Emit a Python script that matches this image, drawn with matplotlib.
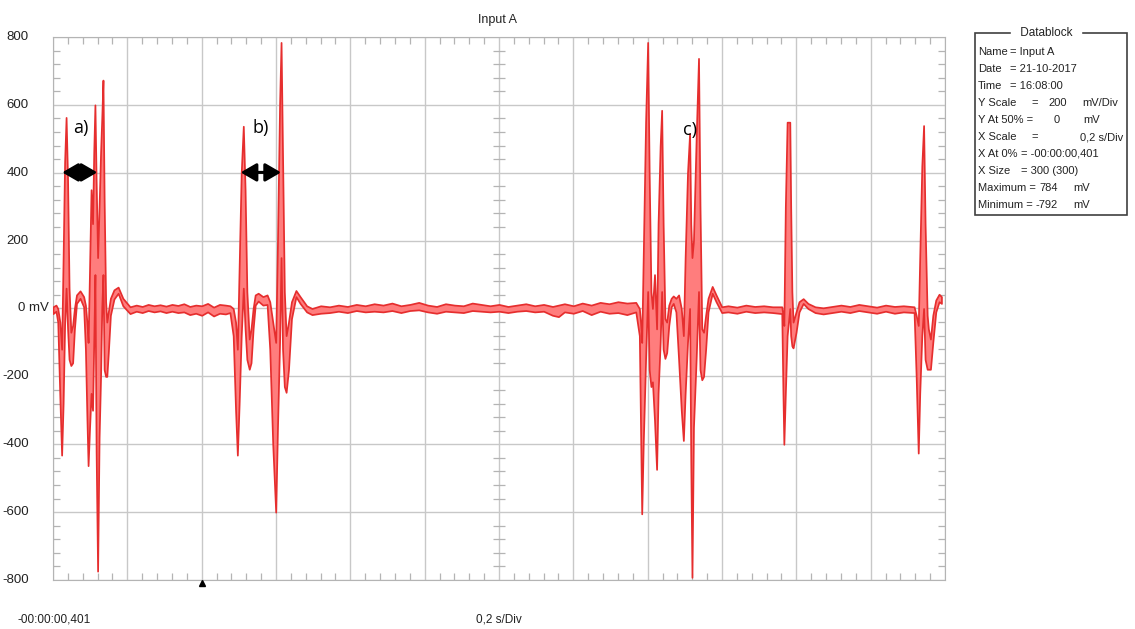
import matplotlib
matplotlib.use("Agg")
import matplotlib.pyplot as plt
import matplotlib.transforms as mtransforms
from matplotlib.patches import Rectangle
import numpy as np

# x = sample index (300 samples over 12 divisions), envelope max/min in mV
# burst a)
a_idx = [0.0, 1.0, 1.6, 2.3, 2.9, 3.4, 3.9, 4.4, 4.9, 5.4, 6.0, 6.6, 7.2, 7.9, 9.1, 10.3,
         10.9, 11.4, 11.8, 12.3, 12.8, 13.3, 13.7, 14.1, 14.5, 15.0, 15.5, 16.0, 16.4,
         16.8, 17.2, 17.7, 18.1, 18.6, 19.3, 20.5, 21.9, 23.5, 25.9]
a_max = [5, 10, 0, -40, -120, 150, 430, 563, 380, 60, -70, -50, 0, 40, 52, 35,
         10, -40, -100, 120, 350, 250, 460, 600, 380, 150, 300, 460, 560,
         673, 320, 20, -40, -10, 30, 55, 63, 30, 5]
a_min = [-15, -8, -40, -260, -432, -280, -50, 60, -60, -150, -168, -160, -60, 15, 30, 5,
         -120, -320, -463, -350, -250, -300, -100, 100, -420, -774, -380, -200, 0,
         100, -180, -200, -200, -130, -20, 28, 45, 8, -15]

# quiet stretch
q1_idx = [28, 30, 32, 34, 36, 38, 40, 42, 44, 46, 48, 50, 52, 54, 56, 58, 59.5]
q1_max = [10, 6, 12, 8, 11, 7, 12, 9, 14, 6, 10, 8, 15, 4, 12, 10, 8]
q1_min = [-8, -12, -6, -10, -7, -12, -8, -12, -10, -18, -14, -20, -10, -22, -14, -16, -12]

# burst b)
b_idx = [60.6, 61.4, 62.0, 62.6, 63.3, 64.0, 64.6, 65.2, 66.0, 66.6, 67.3, 68.0, 69.0,
         70.6, 72.0, 72.9, 73.9, 74.9, 75.5, 76.2, 76.7, 77.2, 77.8, 78.4, 79.2, 80.2,
         81.7, 83.1, 85.3, 87.1]
b_max = [0, -40, -120, 120, 400, 537, 350, 50, -90, -60, 0, 40, 45,
         35, 40, 20, -40, -100, 200, 600, 784, 450, 50, -80, -40, 20,
         53, 35, 8, 0]
b_min = [-80, -300, -432, -280, -80, 60, -60, -150, -179, -160, -60, 10, 22,
         10, 12, -120, -400, -600, -350, -100, 150, -120, -230, -247, -180, -30,
         35, 15, -10, -18]

q2_idx = [90, 93, 96, 99, 102, 105, 108, 111, 114, 117, 120, 123, 126, 129, 132, 135,
          138, 141, 144, 147, 150, 153, 156, 159, 162, 165, 168, 170, 172, 175, 178,
          181, 184, 187, 190, 193, 196]
q2_max = [8, 5, 10, 6, 12, 8, 14, 10, 16, 8, 12, 18, 10, 6, 14, 10,
          8, 16, 12, 8, 12, 6, 10, 14, 8, 12, 6, 10, 14, 8, 16,
          10, 18, 14, 20, 16, 18]
q2_min = [-14, -12, -8, -12, -6, -10, -8, -10, -6, -12, -6, -4, -10, -14, -8, -10,
          -12, -6, -8, -10, -8, -12, -8, -6, -10, -8, -20, -24, -10, -14, -6,
          -18, -8, -14, -12, -18, -10]

# burst c)
c_idx = [197.2, 197.6, 198.0, 198.5, 199.3, 200.0, 200.5, 201.1, 201.6, 202.3, 203.0,
         203.5, 204.2, 204.7, 205.2, 205.8, 206.4, 207.1, 207.9, 208.6, 209.5, 210.4,
         211.3, 212.0, 212.6, 213.4, 214.1, 214.5, 214.9, 215.4, 216.3, 217.1, 217.6,
         218.2, 218.8, 219.5, 220.3, 221.7, 223.0, 224.9]
c_max = [0, -40, -100, 150, 550, 784, 400, 50, 0, 100, -60,
         250, 480, 584, 250, -30, -40, 10, 30, 37, 30, 40,
         0, -80, 150, 400, 516, 250, 150, 200, 500, 737, 300,
         -60, -70, -20, 30, 65, 40, 5]
c_min = [-80, -350, -605, -400, -150, 50, -180, -230, -216, -330, -474,
         -250, -100, 50, -120, -147, -130, -50, 5, 15, -10, -150,
         -300, -389, -250, -100, 0, -450, -792, -350, -150, 50, -180,
         -210, -200, -120, -10, 45, 20, -12]

q3_idx = [227, 230, 233, 236, 239, 242, 245.1]
q3_max = [8, 4, 10, 6, 8, 5, 5]
q3_min = [-10, -14, -8, -12, -10, -12, -15]

# single spike near 1.4 s
d_idx = [245.5, 245.8, 246.3, 246.9, 247.8, 248.1, 248.5, 248.9, 249.9, 250.9, 252.3, 253.9, 256.3]
d_max = [-20, -50, 300, 549, 549, 300, 50, -40, -10, 20, 29, 15, 5]
d_min = [-250, -400, -250, -80, 0, -80, -110, -116, -70, -10, 15, 0, -12]

q4_idx = [259, 262, 265, 268, 271, 274, 277, 280, 283, 286, 289.6]
q4_max = [2, 6, 10, 6, 12, 8, 4, 10, 6, 8, 5]
q4_min = [-16, -12, -8, -12, -6, -10, -14, -8, -14, -10, -12]

# last spike
e_idx = [290.3, 291.0, 291.5, 292.2, 292.8, 293.3, 294.0, 294.4, 295.1, 295.9, 296.9, 298.0, 298.8]
e_max = [-20, -50, 150, 420, 539, 250, -20, -60, -90, -20, 25, 42, 35]
e_min = [-200, -426, -250, -80, 0, -150, -179, -179, -179, -100, -10, 20, 15]

sample_idx = a_idx + q1_idx + b_idx + q2_idx + c_idx + q3_idx + d_idx + q4_idx + e_idx
env_max = a_max + q1_max + b_max + q2_max + c_max + q3_max + d_max + q4_max + e_max
env_min = a_min + q1_min + b_min + q2_min + c_min + q3_min + d_min + q4_min + e_min
assert len(sample_idx) == len(env_max) == len(env_min)

y_major = [-800, -600, -400, -200, 0, 200, 400, 600, 800]
y_labels = ["-800", "-600", "-400", "-200", "0 mV", "200", "400", "600", "800"]

plt.rcParams["font.family"] = ["Liberation Sans", "DejaVu Sans"]
txt_c = "#222222"

fig = plt.figure(figsize=(11.35, 6.29), dpi=100)
ax = fig.add_axes([53 / 1135, 1 - 580 / 629, 892 / 1135, 543 / 629])

grid_c = "#c8c8c8"
ax.set_xlim(0, 300)
ax.set_ylim(-800, 800)
ax.set_xticks(np.arange(0, 301, 25))
ax.set_xticks(np.arange(0, 301, 5), minor=True)
ax.set_yticks(y_major)
ax.set_yticks(np.arange(-800, 801, 40), minor=True)
ax.grid(True, which="major", color=grid_c, linewidth=1.0)
ax.tick_params(which="major", length=0, labelbottom=False, labelleft=False)
ax.tick_params(which="minor", direction="in", length=5, width=0.9, color="#b4b4b4",
               top=True, right=True, bottom=True, left=True)
for sp in ax.spines.values():
    sp.set_color("#b4b4b4")
ax.set_axisbelow(True)

# small ticks on the centre vertical line
cy = np.arange(-760, 800, 40)
cy = cy[cy % 200 != 0]
ax.plot(np.full(len(cy), 150), cy, linestyle="none", marker="_", markersize=9,
        markeredgewidth=0.9, color="#b4b4b4", zorder=1)

# signal envelope
ax.fill_between(sample_idx, env_min, env_max, facecolor="#ff7d7d",
                edgecolor="#e62e2e", linewidth=1.25, zorder=3)

# y labels
ytr = mtransforms.blended_transform_factory(ax.transAxes, ax.transData)
for v, lab in zip(y_major, y_labels):
    xoff = -0.005 if lab == "0 mV" else -0.027
    ax.text(xoff, v, lab, transform=ytr, ha="right", va="center", fontsize=9.5, color=txt_c)

# trigger marker
ax.plot([50], [-0.006], marker="^", markersize=5, color="black", clip_on=False,
        transform=mtransforms.blended_transform_factory(ax.transData, ax.transAxes), zorder=5)

fig.text(498 / 1135, 1 - 20 / 629, "Input A", ha="center", va="center", fontsize=9, color=txt_c)
fig.text(17 / 1135, 1 - 620 / 629, "-00:00:00,401", ha="left", va="center", fontsize=8.5, color=txt_c)
fig.text(499 / 1135, 1 - 620 / 629, "0,2 s/Div", ha="center", va="center", fontsize=8.5, color=txt_c)

# annotations a) b) c)
for lab, xs, yv in [("a)", 9.4, 532), ("b)", 70.0, 532), ("c)", 214.2, 525)]:
    ax.text(xs, yv, lab, ha="center", va="center", fontsize=13,
            family=["Open Sans", "DejaVu Sans"], color="black", zorder=6)
for x0, x1 in [(3.1, 14.9), (63.1, 76.7)]:
    ax.annotate("", xy=(x1, 401), xytext=(x0, 401),
                arrowprops=dict(arrowstyle="<|-|>,head_length=0.95,head_width=0.55",
                                mutation_scale=10, color="black", lw=2.2,
                                shrinkA=0, shrinkB=0), zorder=6)

# datablock
bx0, bx1, by0, by1 = 975, 1127, 33, 215
fig.patches.append(Rectangle((bx0 / 1135, 1 - by1 / 629), (bx1 - bx0) / 1135, (by1 - by0) / 629,
                             transform=fig.transFigure, fill=False, edgecolor="#404040", linewidth=1.2))
fig.text(1046 / 1135, 1 - by0 / 629, " Datablock ", ha="center", va="center", fontsize=8.5,
         color=txt_c, backgroundcolor="white")

db_fs = 8
rows = [
    # (label, [(text, x, ha), ...])
    ("Name", [("= Input A", 1010, "left")]),
    ("Date", [("= 21-10-2017", 1010, "left")]),
    ("Time", [("= 16:08:00", 1010, "left")]),
    ("Y Scale", [("=", 1031, "left"), ("200", 1067, "right"), ("mV/Div", 1082, "left")]),
    ("Y At 50% =", [("0", 1060, "right"), ("mV", 1083, "left")]),
    ("X Scale", [("=", 1031, "left"), ("0,2 s/Div", 1123, "right")]),
    ("X At 0%", [("= -00:00:00,401", 1021, "left")]),
    ("X Size", [("= 300 (300)", 1021, "left")]),
    ("Maximum =", [("784", 1058, "right"), ("mV", 1073, "left")]),
    ("Minimum =", [("-792", 1058, "right"), ("mV", 1073, "left")]),
]
for i, (k, parts) in enumerate(rows):
    yy = 1 - (52 + 17 * i) / 629
    fig.text(978 / 1135, yy, k, ha="left", va="center", fontsize=db_fs, color=txt_c)
    for s, px, ha in parts:
        fig.text(px / 1135, yy, s, ha=ha, va="center", fontsize=db_fs, color=txt_c)

fig.savefig("out.png", dpi=100)
